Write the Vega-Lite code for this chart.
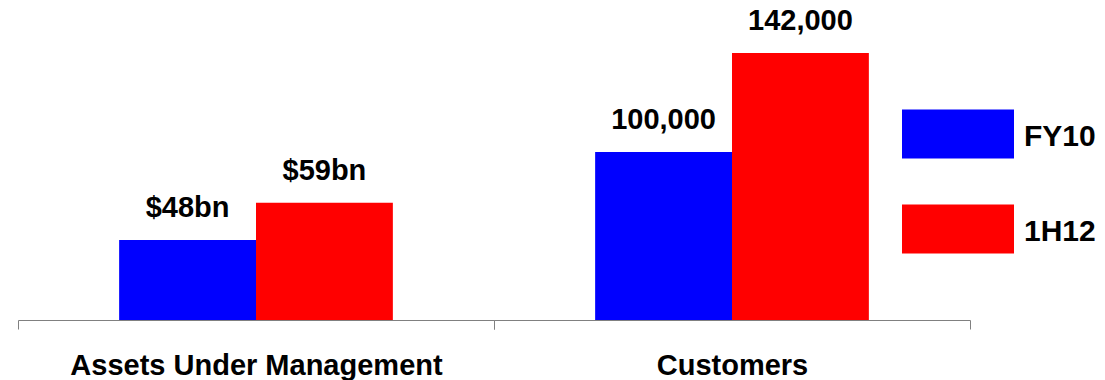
{
  "$schema": "https://vega.github.io/schema/vega-lite/v6.json",
  "background": "white",
  "padding": {"left": 17, "top": 0, "right": 0, "bottom": 0},
  "spacing": 0,
  "bounds": "flush",
  "config": {
    "view": {"stroke": null},
    "font": "Liberation Sans",
    "axisX": {
      "title": null,
      "labelAngle": 0,
      "grid": false,
      "domainColor": "#808080",
      "domainWidth": 1,
      "tickColor": "#808080",
      "tickWidth": 1,
      "tickSize": 9,
      "tickBand": "extent",
      "labelFont": "Liberation Sans",
      "labelFontSize": 29,
      "labelFontWeight": "bold",
      "labelColor": "#000000",
      "labelBaseline": "alphabetic",
      "labelPadding": 45,
      "labelLimit": 0
    },
    "legend": {
      "orient": "none",
      "legendX": 884,
      "legendY": 81,
      "padding": 0,
      "title": null,
      "symbolType": "M-1,-0.49H1V0.385H-1Z",
      "symbolSize": 12544,
      "symbolStrokeWidth": 0,
      "symbolOpacity": 1,
      "labelFont": "Liberation Sans",
      "labelFontSize": 30,
      "labelFontWeight": "bold",
      "labelColor": "#000000",
      "labelOffset": 10,
      "rowPadding": 17
    }
  },
  "hconcat": [
    {
      "width": 476,
      "height": 320,
      "data": {
        "values": [
          {"group": "Assets Under Management", "series": "FY10", "value": 48, "label": "$48bn"},
          {"group": "Assets Under Management", "series": "1H12", "value": 59, "label": "$59bn"}
        ]
      },
      "encoding": {
        "x": {"field": "group", "type": "nominal", "scale": {"paddingInner": 0, "paddingOuter": 0}},
        "xOffset": {"field": "series", "type": "nominal", "sort": ["FY10", "1H12"], "scale": {"paddingInner": 0, "paddingOuter": 0.739}},
        "y": {"field": "value", "type": "quantitative", "scale": {"domain": [24.4, 118.8], "zero": false, "nice": false}, "axis": null}
      },
      "layer": [
        {
          "mark": {"type": "bar", "clip": true},
          "encoding": {
            "color": {"field": "series", "type": "nominal", "scale": {"domain": ["FY10", "1H12"], "range": ["#0000ff", "#ff0000"]}}
          }
        },
        {
          "mark": {"type": "text", "dy": -23, "baseline": "alphabetic", "align": "center", "fontSize": 29, "fontWeight": "bold", "font": "Liberation Sans", "color": "#000000"},
          "encoding": {"text": {"field": "label"}}
        }
      ]
    },
    {
      "width": 476,
      "height": 320,
      "data": {
        "values": [
          {"group": "Customers", "series": "FY10", "value": 100000, "label": "100,000"},
          {"group": "Customers", "series": "1H12", "value": 142000, "label": "142,000"}
        ]
      },
      "encoding": {
        "x": {"field": "group", "type": "nominal", "scale": {"paddingInner": 0, "paddingOuter": 0}},
        "xOffset": {"field": "series", "type": "nominal", "sort": ["FY10", "1H12"], "scale": {"paddingInner": 0, "paddingOuter": 0.739}},
        "y": {"field": "value", "type": "quantitative", "scale": {"domain": [28727, 164485], "zero": false, "nice": false}, "axis": null}
      },
      "layer": [
        {
          "mark": {"type": "bar", "clip": true},
          "encoding": {
            "color": {"field": "series", "type": "nominal", "scale": {"domain": ["FY10", "1H12"], "range": ["#0000ff", "#ff0000"]}}
          }
        },
        {
          "mark": {"type": "text", "dy": -23, "baseline": "alphabetic", "align": "center", "fontSize": 29, "fontWeight": "bold", "font": "Liberation Sans", "color": "#000000"},
          "encoding": {"text": {"field": "label"}}
        }
      ]
    }
  ]
}
